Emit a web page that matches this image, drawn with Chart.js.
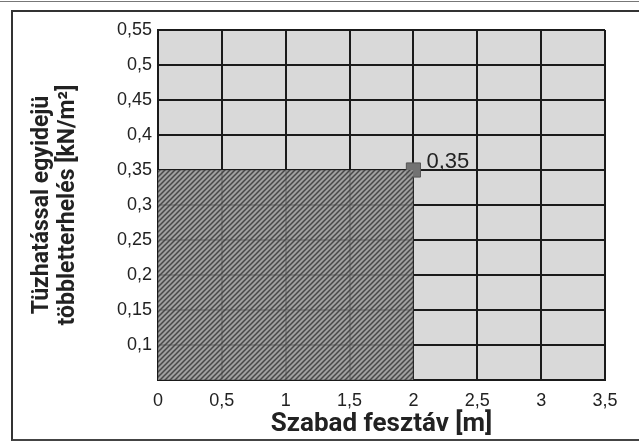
<!DOCTYPE html>
<html>
<head>
<meta charset="utf-8">
<script src="https://cdn.jsdelivr.net/npm/chart.js@4/dist/chart.umd.min.js"></script>
<style>
  html, body { margin: 0; padding: 0; background: #ffffff; }
  #wrap { position: relative; width: 639px; height: 442px; overflow: hidden; background: #ffffff; }
  #c { position: absolute; left: 0; top: 0; }
  .frame { position: absolute; left: 11px; top: 10px; width: 700px; height: 427px;
           border-left: 2px solid #333; border-top: 2px solid #333; border-bottom: 2px solid #444; pointer-events: none; }
  .topline { position: absolute; left: 0; top: 1px; width: 639px; height: 0; border-top: 1px solid #777; pointer-events: none; }
</style>
</head>
<body>
<div id="wrap">
  <canvas id="c" width="639" height="442"></canvas>
  <div class="topline"></div>
  <div class="frame"></div>
</div>
<script>
// ---- data ----
const xTickValues = [0, 0.5, 1, 1.5, 2, 2.5, 3, 3.5];
const xTickLabels = ['0', '0,5', '1', '1,5', '2', '2,5', '3', '3,5'];
const yTickValues = [0.05, 0.1, 0.15, 0.2, 0.25, 0.3, 0.35, 0.4, 0.45, 0.5, 0.55];
const yTickLabels = ['', '0,1', '0,15', '0,2', '0,25', '0,3', '0,35', '0,4', '0,45', '0,5', '0,55'];
const areaX = [0, 2];
const areaY = [0.35, 0.35];
const markerX = [2];
const markerY = [0.35];
const markerLabels = ['0,35'];
const xTitle = 'Szabad fesztáv [m]';
const yTitle = ['Tüzhatással egyidejü', 'többletterhelés [kN/m²]'];

// ---- hatch pattern ----
function makeHatch() {
  const s = 5;
  const p = document.createElement('canvas');
  p.width = s; p.height = s;
  const g = p.getContext('2d');
  g.fillStyle = 'rgba(150,150,150,0.86)';
  g.fillRect(0, 0, s, s);
  g.strokeStyle = 'rgba(62,62,62,0.9)';
  g.lineWidth = 1.5;
  g.beginPath();
  g.moveTo(-1, s + 1); g.lineTo(s + 1, -1);
  g.moveTo(-1, 1); g.lineTo(1, -1);
  g.moveTo(s - 1, s + 1); g.lineTo(s + 1, s - 1);
  g.stroke();
  return g.createPattern(p, 'repeat');
}

const plotBg = {
  id: 'plotBg',
  beforeDraw(chart) {
    const { ctx, chartArea: a } = chart;
    ctx.save();
    ctx.fillStyle = '#d9d9d9';
    ctx.fillRect(a.left, a.top, a.right - a.left, a.bottom - a.top);
    ctx.restore();
  }
};

const pointLabel = {
  id: 'pointLabel',
  afterDatasetsDraw(chart) {
    const meta = chart.getDatasetMeta(1);
    const ctx = chart.ctx;
    ctx.save();
    ctx.font = '22px "Liberation Sans", Arial, sans-serif';
    ctx.fillStyle = '#222';
    ctx.textAlign = 'left';
    ctx.textBaseline = 'alphabetic';
    meta.data.forEach((el, i) => {
      ctx.fillText(markerLabels[i], el.x + 13, el.y - 2);
    });
    ctx.restore();
  }
};

const ctx = document.getElementById('c').getContext('2d');
const tickFont = { family: '"Liberation Sans", Arial, sans-serif', size: 18 };
const titleFont = { family: 'Roboto, "Liberation Sans", sans-serif', size: 23, weight: 'bold', lineHeight: 1.1 };

new Chart(ctx, {
  type: 'scatter',
  data: {
    datasets: [
      {
        type: 'line',
        data: areaX.map((x, i) => ({ x: x, y: areaY[i] })),
        fill: 'start',
        backgroundColor: makeHatch(),
        borderWidth: 0,
        pointRadius: 0,
        tension: 0
      },
      {
        type: 'scatter',
        data: markerX.map((x, i) => ({ x: x, y: markerY[i] })),
        pointStyle: 'rect',
        pointRadius: 10,
        backgroundColor: '#727272',
        borderColor: '#555555',
        borderWidth: 1
      }
    ]
  },
  options: {
    responsive: false,
    animation: false,
    events: [],
    layout: { padding: { left: 0, top: 30, right: 34, bottom: 0 } },
    plugins: { legend: { display: false }, tooltip: { enabled: false } },
    scales: {
      x: {
        type: 'linear',
        min: 0, max: 3.5,
        afterBuildTicks: s => { s.ticks = xTickValues.map(v => ({ value: v })); },
        afterFit: s => { s.height = 62; },
        ticks: { autoSkip: false, maxRotation: 0, padding: 10, color: '#222', font: tickFont,
                 callback: (v, i) => xTickLabels[i] },
        grid: { color: '#1a1a1a', lineWidth: 2, drawTicks: false },
        border: { color: '#1a1a1a', width: 2 },
        title: { display: true, text: xTitle, color: '#222', font: { ...titleFont, size: 26, lineHeight: 1.0 }, padding: { top: 0, bottom: 5 } }
      },
      y: {
        type: 'linear',
        min: 0.05, max: 0.55,
        afterBuildTicks: s => { s.ticks = yTickValues.map(v => ({ value: v })); },
        afterFit: s => { s.width = 158; },
        ticks: { autoSkip: false, padding: 6, color: '#222', font: tickFont,
                 callback: (v, i) => yTickLabels[i] },
        grid: { color: '#1a1a1a', lineWidth: 2, drawTicks: false },
        border: { color: '#1a1a1a', width: 2 },
        title: { display: true, text: yTitle, color: '#222', font: titleFont, padding: { top: 30, bottom: 0 } }
      }
    }
  },
  plugins: [plotBg, pointLabel]
});
</script>
</body>
</html>
